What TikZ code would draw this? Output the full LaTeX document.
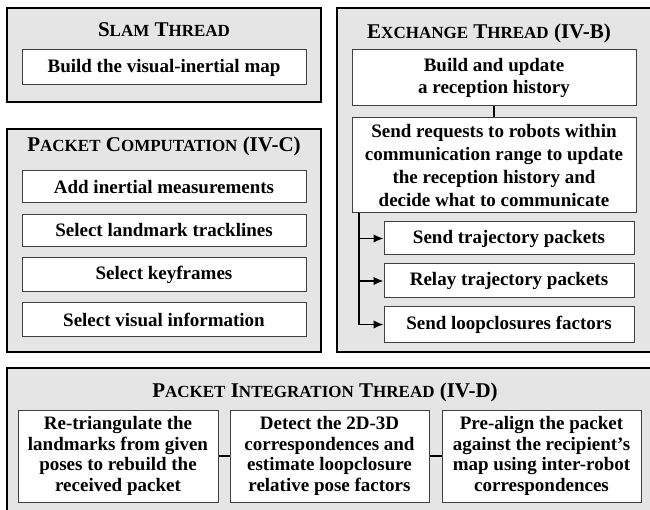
\documentclass[tikz,border=0pt]{standalone}
\usepackage{fontspec}
\setmainfont{Liberation Serif}
\usetikzlibrary{arrows.meta}
\newcommand\tsc[2]{{\fontsize{21}{24}\selectfont #1}{\fontsize{17}{20}\selectfont #2}}
\begin{document}
\begin{tikzpicture}[x=1pt,y=-1pt,
  outerbox/.style={draw=black,line width=2pt,fill=black!10},
  ibox/.style={draw=black!75,line width=1pt,fill=white,inner sep=0pt,align=center,
    font=\fontsize{19}{21.5}\selectfont\bfseries},
  ttl/.style={inner sep=0pt,font=\fontsize{21}{24}\selectfont\bfseries},
  conn/.style={line width=1.6pt,draw=black},
  arr/.style={conn,-{Latex[length=10pt,width=8.5pt]}}]
\path[use as bounding box] (0,0) rectangle (650,510);
\clip (0,0) rectangle (650,510);
% outer boxes
\path[outerbox] (7,8) rectangle (321,102);
\path[outerbox] (7,129) rectangle (321,352);
\path[outerbox] (337,8) rectangle (660,352);
\path[outerbox] (7,368) rectangle (660,520);
% titles
\node[ttl] (t1) at (164,30) {\tsc{S}{LAM} \tsc{T}{HREAD}};
\node[ttl] (t2) at (164,146) {\tsc{P}{ACKET} \tsc{C}{OMPUTATION} \tsc{(IV-C)}{}};
\node[ttl] (t3) at (489,33) {\tsc{E}{XCHANGE} \tsc{T}{HREAD} \tsc{(IV-B)}{}};
\node[ttl] (t4) at (325,392) {\tsc{P}{ACKET} \tsc{I}{NTEGRATION} \tsc{T}{HREAD} \tsc{(IV-D)}{}};
% SLAM
\node[ibox,minimum width=284pt,minimum height=35pt] (s1) at (164,67.5) {Build the visual-inertial map};
% packet computation
\node[ibox,minimum width=284pt,minimum height=32pt] (p1) at (164,187) {Add inertial measurements};
\node[ibox,minimum width=284pt,minimum height=32pt] (p2) at (164,230.5) {Select landmark tracklines};
\node[ibox,minimum width=284pt,minimum height=34pt] (p3) at (164,275) {Select keyframes};
\node[ibox,minimum width=284pt,minimum height=33pt] (p4) at (164,319.5) {Select visual information};
% exchange
\node[ibox,minimum width=284pt,minimum height=56pt] (e1) at (494,78) {Build and update\\a reception history};
\node[ibox,minimum width=284pt,minimum height=95pt,font=\fontsize{19}{23}\selectfont\bfseries] (e2) at (494,165.5) {Send requests to robots within\\communication range to update\\the reception history and\\decide what to communicate};
\node[ibox,minimum width=250pt,minimum height=33pt] (e3) at (509,238.5) {Send trajectory packets};
\node[ibox,minimum width=250pt,minimum height=34pt] (e4) at (509,281) {Relay trajectory packets};
\node[ibox,minimum width=250pt,minimum height=35pt] (e5) at (509,324.5) {Send loopclosures factors};
\draw[conn] (e1) -- (e2);
\coordinate (br) at (359,213);
\draw[arr] (br) |- (e5.west);
\draw[arr] (br |- e3.west) -- (e3.west);
\draw[arr] (br |- e4.west) -- (e4.west);
% packet integration
\tikzset{ibot/.style={ibox,minimum height=92pt,font=\fontsize{19}{20.5}\selectfont\bfseries}}
\node[ibot,minimum width=200pt] (i1) at (118,456) {Re-triangulate the\\landmarks from given\\poses to rebuild the\\received packet};
\node[ibot,minimum width=199pt] (i2) at (329.5,456) {Detect the 2D-3D\\correspondences and\\estimate loopclosure\\relative pose factors};
\node[ibot,minimum width=199pt] (i3) at (541.5,456) {Pre-align the packet\\against the recipient’s\\map using inter-robot\\correspondences};
\draw[conn] (i1) -- (i2);
\draw[conn] (i2) -- (i3);
\end{tikzpicture}
\end{document}
